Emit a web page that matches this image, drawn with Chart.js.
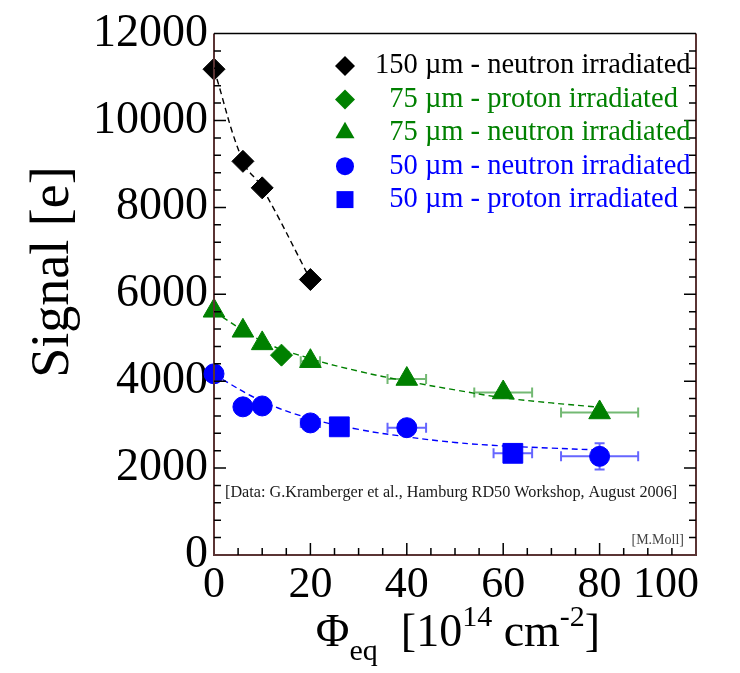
<!DOCTYPE html>
<html>
<head>
<meta charset="utf-8">
<script src="https://cdn.jsdelivr.net/npm/chart.js@4/dist/chart.umd.min.js"></script>
<style>
  html, body { margin: 0; padding: 0; background: #fff; }
</style>
</head>
<body>
<canvas id="chart" width="740" height="673"></canvas>
<script>
// 150 um - neutron irradiated
const n150X = [0, 6, 10, 20];
const n150Y = [11180, 9060, 8450, 6340];
// 75 um - proton irradiated
const p75X = [14];
const p75Y = [4600];
// 75 um - neutron irradiated
const n75X = [0, 6, 10, 20, 40, 60, 80];
const n75Y = [5620, 5160, 4870, 4460, 4050, 3740, 3280];
const n75XErr = [0, 0, 0, 2, 4, 6, 8];
// 50 um - neutron irradiated
const n50X = [0, 6, 10, 20, 40, 80];
const n50Y = [4170, 3410, 3430, 3040, 2930, 2270];
const n50XErr = [0, 0, 0, 2, 4, 8];
const n50YErr = [0, 0, 0, 0, 0, 300];
// 50 um - proton irradiated
const p50X = [26, 62];
const p50Y = [2950, 2340];
const p50XErr = [0, 4];
const p50YErr = [0, 200];

// dashed fit curves
const fit150X = [0, 6, 10, 20];
const fit150Y = [11180, 9060, 8450, 6340];
const fit75X = [0, 10, 20, 30, 40, 50, 60, 70, 80];
const fit75Y = [5600, 4920, 4520, 4230, 4000, 3800, 3620, 3500, 3400];
const fit50X = [0, 10, 20, 30, 40, 50, 60, 70, 79];
const fit50Y = [4150, 3540, 3140, 2890, 2720, 2590, 2510, 2460, 2420];

const xTicks = [0, 20, 40, 60, 80, 100];
const yTicks = [0, 2000, 4000, 6000, 8000, 10000, 12000];

const legendLabels = [
    ['150', ' µm - neutron irradiated'],
    ['75', ' µm - proton irradiated'],
    ['75', ' µm - neutron irradiated'],
    ['50', ' µm - neutron irradiated'],
    ['50', ' µm - proton irradiated']
];

const colors = {
    black: '#000000',
    green: '#008000',
    blue: '#0000ff',
    greenErr: 'rgba(0,128,0,0.55)',
    blueErr: 'rgba(0,0,255,0.6)',
    frame: '#5a3434'
};

const serif = '"Liberation Serif", "Times New Roman", serif';

function pts(xs, ys) {
    return xs.map((x, i) => ({ x: x, y: ys[i] }));
}

function fitLine(xs, ys, color) {
    return {
        data: pts(xs, ys),
        showLine: true,
        borderColor: color,
        borderWidth: 1.4,
        borderDash: [6, 4],
        pointRadius: 0,
        tension: 0.4,
        clip: false,
        order: 2
    };
}

function markers(xs, ys, color, style, radius, extra) {
    return Object.assign({
        data: pts(xs, ys),
        showLine: false,
        backgroundColor: color,
        borderColor: color,
        borderWidth: 1,
        pointStyle: style,
        pointRadius: radius,
        clip: false,
        order: 1
    }, extra || {});
}

function drawMarker(ctx, style, x, y, r, color) {
    ctx.save();
    ctx.fillStyle = color;
    ctx.beginPath();
    if (style === 'diamond') {
        ctx.moveTo(x, y - r); ctx.lineTo(x + r, y); ctx.lineTo(x, y + r); ctx.lineTo(x - r, y);
    } else if (style === 'triangle') {
        ctx.moveTo(x, y - r); ctx.lineTo(x + r * 0.866, y + r * 0.5); ctx.lineTo(x - r * 0.866, y + r * 0.5);
    } else if (style === 'circle') {
        ctx.arc(x, y, r, 0, Math.PI * 2);
    } else {
        ctx.rect(x - r * 0.707, y - r * 0.707, r * 1.414, r * 1.414);
    }
    ctx.closePath();
    ctx.fill();
    ctx.restore();
}

const decor = {
    id: 'decor',
    beforeDatasetsDraw(chart) {
        const ctx = chart.ctx;
        const xs = chart.scales.x, ys = chart.scales.y;
        ctx.save();
        ctx.lineWidth = 2;
        chart.data.datasets.forEach(ds => {
            if (!ds.xErr && !ds.yErr) return;
            ctx.strokeStyle = ds.errColor;
            ds.data.forEach((p, i) => {
                const px = xs.getPixelForValue(p.x);
                const py = ys.getPixelForValue(p.y);
                const ex = ds.xErr ? ds.xErr[i] : 0;
                const ey = ds.yErr ? ds.yErr[i] : 0;
                ctx.beginPath();
                if (ex) {
                    const x1 = xs.getPixelForValue(p.x - ex), x2 = xs.getPixelForValue(p.x + ex);
                    ctx.moveTo(x1, py); ctx.lineTo(x2, py);
                    ctx.moveTo(x1, py - 5); ctx.lineTo(x1, py + 5);
                    ctx.moveTo(x2, py - 5); ctx.lineTo(x2, py + 5);
                }
                if (ey) {
                    const y1 = ys.getPixelForValue(p.y - ey), y2 = ys.getPixelForValue(p.y + ey);
                    ctx.moveTo(px, y1); ctx.lineTo(px, y2);
                    ctx.moveTo(px - 5, y1); ctx.lineTo(px + 5, y1);
                    ctx.moveTo(px - 5, y2); ctx.lineTo(px + 5, y2);
                }
                ctx.stroke();
            });
        });
        ctx.restore();
    },
    afterDraw(chart) {
        const ctx = chart.ctx;
        const a = chart.chartArea;
        const xs = chart.scales.x, ys = chart.scales.y;
        ctx.save();

        // frame
        ctx.lineWidth = 2;
        ctx.strokeStyle = colors.frame;
        ctx.beginPath();
        ctx.moveTo(a.left, a.top); ctx.lineTo(a.left, a.bottom); ctx.lineTo(a.right, a.bottom); ctx.lineTo(a.right, a.top);
        ctx.stroke();
        ctx.strokeStyle = '#000';
        ctx.lineWidth = 1.5;
        ctx.beginPath();
        ctx.moveTo(a.left, a.top); ctx.lineTo(a.right, a.top);
        ctx.stroke();

        // inner ticks
        ctx.lineWidth = 1.5;
        ctx.beginPath();
        for (let v = 400; v < 12000; v += 400) {
            const y = ys.getPixelForValue(v);
            const len = v % 2000 === 0 ? 12 : 7;
            ctx.moveTo(a.left, y); ctx.lineTo(a.left + len, y);
            ctx.moveTo(a.right, y); ctx.lineTo(a.right - len, y);
        }
        for (let v = 5; v < 100; v += 5) {
            const x = xs.getPixelForValue(v);
            const len = v % 20 === 0 ? 12 : 7;
            ctx.moveTo(x, a.bottom); ctx.lineTo(x, a.bottom - len);
        }
        ctx.stroke();

        // x tick labels (last one kept inside the frame, as in the original)
        ctx.fillStyle = '#000';
        ctx.font = '44px ' + serif;
        ctx.textBaseline = 'alphabetic';
        xTicks.forEach((v, i) => {
            const last = i === xTicks.length - 1;
            ctx.textAlign = last ? 'right' : 'center';
            ctx.fillText(String(v), last ? a.right + 3 : xs.getPixelForValue(v), 597);
        });

        // legend
        const legendStyles = [
            ['diamond', colors.black, 10],
            ['diamond', colors.green, 10],
            ['triangle', colors.green, 11],
            ['circle', colors.blue, 9],
            ['square', colors.blue, 12]
        ];
        ctx.font = '28.5px ' + serif;
        ctx.textBaseline = 'middle';
        ctx.textAlign = 'left';
        const numRight = 375 + ctx.measureText('150').width;
        legendLabels.forEach((lab, i) => {
            const y = 66 + i * 33.4;
            const st = legendStyles[i];
            drawMarker(ctx, st[0], 345, y, st[2], st[1]);
            ctx.fillStyle = st[1];
            const x0 = numRight - ctx.measureText(lab[0]).width;
            ctx.fillText(lab[0] + lab[1], x0, y);
        });

        // notes
        ctx.fillStyle = '#1a1a1a';
        ctx.font = '16.2px ' + serif;
        ctx.fillText('[Data: G.Kramberger et al., Hamburg RD50 Workshop, August 2006]', 225, 493);
        ctx.fillStyle = '#444';
        ctx.font = '14px ' + serif;
        ctx.textAlign = 'right';
        ctx.fillText('[M.Moll]', 684, 540);

        // y title
        ctx.fillStyle = '#000';
        ctx.save();
        ctx.translate(68, 272);
        ctx.rotate(-Math.PI / 2);
        ctx.textAlign = 'center';
        ctx.textBaseline = 'alphabetic';
        ctx.font = '54px ' + serif;
        ctx.fillText('Signal [e]', 0, 0);
        ctx.restore();

        // x title: Phi_eq [10^14 cm^-2]
        const parts = [
            ['Φ', 46, 0],
            ['eq', 30, 14],
            ['  [10', 46, 0],
            ['14', 30, -20],
            [' cm', 46, 0],
            ['-2', 30, -20],
            [']', 46, 0]
        ];
        let total = 0;
        parts.forEach(p => { ctx.font = p[1] + 'px ' + serif; total += ctx.measureText(p[0]).width; });
        let x = 458 - total / 2;
        const base = 646;
        ctx.textAlign = 'left';
        ctx.textBaseline = 'alphabetic';
        parts.forEach(p => {
            ctx.font = p[1] + 'px ' + serif;
            ctx.fillText(p[0], x, base + p[2]);
            x += ctx.measureText(p[0]).width;
        });
        ctx.restore();
    }
};

new Chart(document.getElementById('chart').getContext('2d'), {
    type: 'scatter',
    data: {
        datasets: [
            markers(n150X, n150Y, colors.black, 'rectRot', 11),
            markers(p75X, p75Y, colors.green, 'rectRot', 11),
            markers(n75X, n75Y, colors.green, 'triangle', 12.5, { xErr: n75XErr, errColor: colors.greenErr }),
            markers(n50X, n50Y, colors.blue, 'circle', 10, { xErr: n50XErr, yErr: n50YErr, errColor: colors.blueErr }),
            markers(p50X, p50Y, colors.blue, 'rect', 14, { xErr: p50XErr, yErr: p50YErr, errColor: colors.blueErr }),
            fitLine(fit150X, fit150Y, colors.black),
            fitLine(fit75X, fit75Y, colors.green),
            fitLine(fit50X, fit50Y, colors.blue)
        ]
    },
    options: {
        responsive: false,
        devicePixelRatio: 1,
        animation: false,
        layout: { padding: { top: 30, right: 44, left: 0, bottom: 0 } },
        plugins: {
            legend: { display: false },
            tooltip: { enabled: false }
        },
        scales: {
            x: {
                type: 'linear',
                min: 0,
                max: 100,
                afterBuildTicks: s => { s.ticks = xTicks.map(v => ({ value: v })); },
                afterFit: s => { s.height = 118; },
                grid: { display: false, drawTicks: false },
                border: { display: false },
                ticks: { display: false }
            },
            y: {
                min: 0,
                max: 12000,
                afterBuildTicks: s => { s.ticks = yTicks.map(v => ({ value: v })); },
                afterFit: s => { s.width = 214; },
                grid: { display: false, drawTicks: false },
                border: { display: false },
                ticks: {
                    font: { family: serif, size: 46 },
                    color: '#000',
                    padding: 6,
                    callback: v => String(v)
                }
            }
        }
    },
    plugins: [decor]
});
</script>
</body>
</html>
